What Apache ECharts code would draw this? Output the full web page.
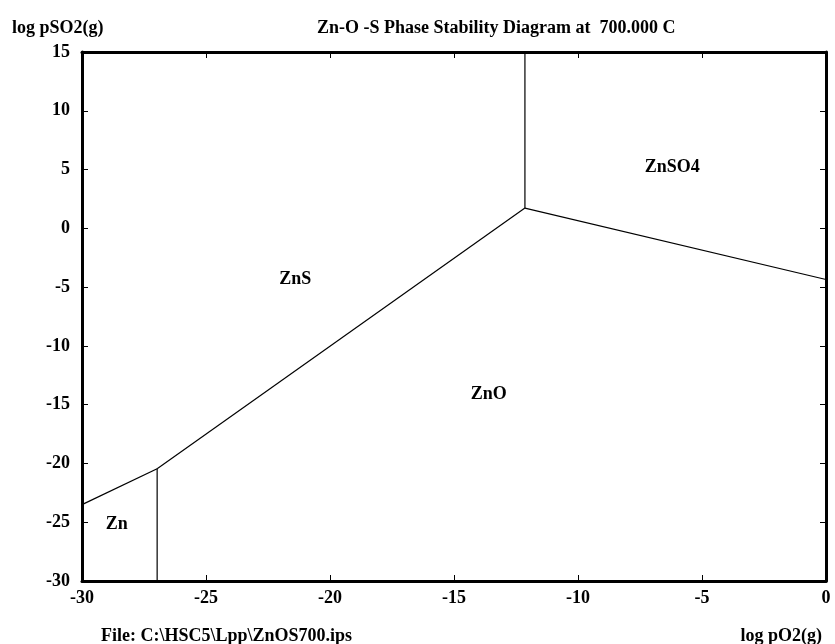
<!DOCTYPE html>
<html>
<head>
<meta charset="utf-8">
<script src="https://cdn.jsdelivr.net/npm/echarts@6/dist/echarts.min.js"></script>
<style>
  html, body { margin: 0; padding: 0; background: #fff; }
  #chart { width: 835px; height: 644px; }
</style>
</head>
<body>
<div id="chart"></div>
<script>
// Phase boundaries, [log pO2, log pSO2]
const znZnsBoundary = [[-30, -23.5], [-26.97, -20.45]];
const znZnoBoundary = [[-26.97, -20.45], [-26.97, -30]];
const znsZnoBoundary = [[-26.97, -20.45], [-12.14, 1.72]];
const znsZnso4Boundary = [[-12.14, 1.72], [-12.14, 15]];
const znoZnso4Boundary = [[-12.14, 1.72], [0, -4.35]];

// Stability field labels
const fieldNames = ['ZnS', 'ZnO', 'ZnSO4', 'Zn'];
const fieldPositions = [[-21.4, -4.3], [-13.6, -14.1], [-6.2, 5.2], [-28.6, -25.2]];

const xTicks = [-30, -25, -20, -15, -10, -5, 0];
const yTicks = [-30, -25, -20, -15, -10, -5, 0, 5, 10, 15];

const FONT = 'Liberation Serif';
const FS = 18;
const textStyle = { fontFamily: FONT, fontWeight: 'bold', fontSize: FS, color: '#000' };

const chart = echarts.init(document.getElementById('chart'));

function boundary(data) {
  return {
    type: 'line', data: data, symbol: 'none', silent: true,
    lineStyle: { color: '#000', width: 1.2 }, animation: false
  };
}

const axisCommon = {
  type: 'value',
  interval: 5,
  splitLine: { show: false },
  axisLine: { show: true, onZero: false, lineStyle: { color: '#000', width: 3 } },
  axisTick: { show: true, inside: true, length: 6, lineStyle: { color: '#000', width: 1 } }
};

chart.setOption({
  animation: false,
  backgroundColor: '#fff',
  grid: { left: 82, right: 9, top: 52, bottom: 63 },
  title: [
    { text: 'log pSO2(g)', left: 7, top: 14, textStyle: textStyle },
    { text: 'Zn-O -S Phase Stability Diagram at  700.000 C', left: 312, top: 14, textStyle: textStyle },
    { text: 'File: C:\\HSC5\\Lpp\\ZnOS700.ips', left: 96, top: 622, textStyle: textStyle },
    { text: 'log pO2(g)', right: 8, top: 622, textStyle: textStyle }
  ],
  xAxis: [
    Object.assign({}, axisCommon, {
      min: -30, max: 0, position: 'bottom',
      axisLabel: { show: true, margin: 8, fontFamily: FONT, fontWeight: 'bold', fontSize: FS, color: '#000',
        customValues: xTicks }
    }),
    Object.assign({}, axisCommon, {
      min: -30, max: 0, position: 'top',
      axisLabel: { show: false }
    })
  ],
  yAxis: [
    Object.assign({}, axisCommon, {
      min: -30, max: 15, position: 'left',
      axisLabel: { show: true, margin: 12, fontFamily: FONT, fontWeight: 'bold', fontSize: FS, color: '#000',
        customValues: yTicks }
    }),
    Object.assign({}, axisCommon, {
      min: -30, max: 15, position: 'right',
      axisLabel: { show: false }
    })
  ],
  series: [
    boundary(znZnsBoundary),
    boundary(znZnoBoundary),
    boundary(znsZnoBoundary),
    boundary(znsZnso4Boundary),
    boundary(znoZnso4Boundary),
    {
      type: 'scatter', symbolSize: 0, silent: true,
      itemStyle: { opacity: 1 },
      data: fieldNames.map((n, i) => ({ name: n, value: fieldPositions[i] })),
      label: {
        show: true, position: 'inside', formatter: '{b}',
        fontFamily: FONT, fontWeight: 'bold', fontSize: FS, color: '#000'
      }
    }
  ]
});
</script>
</body>
</html>
